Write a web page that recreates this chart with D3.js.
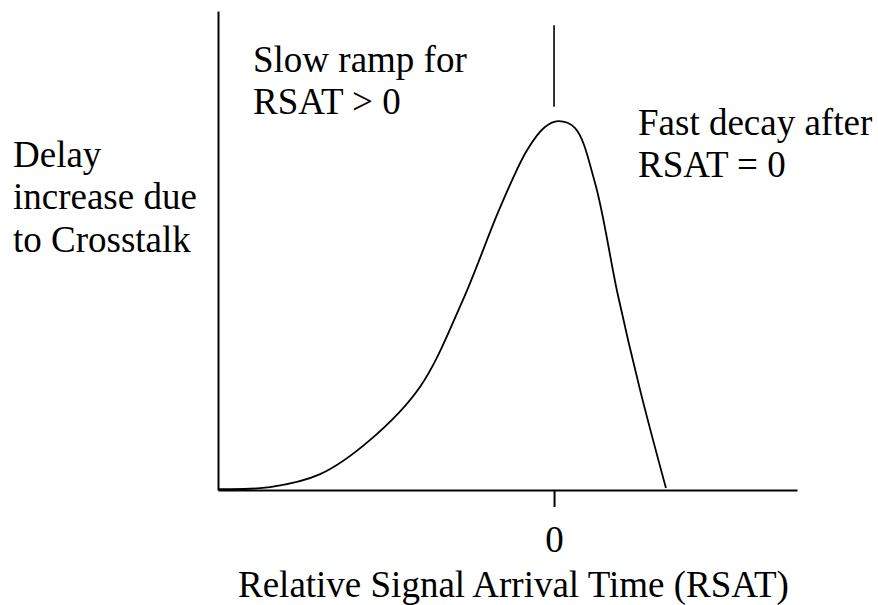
<!DOCTYPE html>
<html>
<head>
<meta charset="utf-8">
<script src="https://cdn.jsdelivr.net/npm/d3@7"></script>
<style>
  html, body { margin: 0; padding: 0; background: #fff; }
  svg { display: block; }
</style>
</head>
<body>
<svg id="chart" width="878" height="605"></svg>
<script>
// ---- data (arbitrary units) ----
const rsat  = [-100, -84.5, -69.6, -54.8, -39.9, -27.1, -16.1, -8.0, -2.7, 1.2, 6.2, 12.2, 19.0, 25.6, 33.3];
const delay = [0.2, 0.6, 3.3, 10.4, 21.5, 39.7, 58.9, 71.0, 75.8, 77.0, 75.6, 64.1, 40.7, 20.9, 0.4];
const xTicks = [0];
const xTickLabels = ["0"];
const markerRange = [80, 97];   // vertical marker above the peak at RSAT = 0
const xDomain = [-100, 72.3];
const yDomain = [0, 100];
const annotations = [
  { lines: ["Slow ramp for", "RSAT > 0"], x: 253, y: 72 },
  { lines: ["Fast decay after", "RSAT = 0"], x: 638, y: 135 },
  { lines: ["Delay", "increase due", "to Crosstalk"], x: 13, y: 167 }
];
const xTitle = "Relative Signal Arrival Time (RSAT)";

// ---- drawing ----
const svg = d3.select("#chart");
const x = d3.scaleLinear().domain(xDomain).range([218, 797]);
const y = d3.scaleLinear().domain(yDomain).range([490, 11]);
const FS = 37;
const FONT = "Liberation Serif";

// y axis (no ticks)
const gy = svg.append("g").attr("transform", `translate(${x(xDomain[0])},0)`)
  .call(d3.axisLeft(y).tickValues([]).tickSizeOuter(0));
gy.select(".domain").attr("stroke", "#000").attr("stroke-width", 2);

// x axis
const gx = svg.append("g").attr("transform", `translate(0,${y(0)})`)
  .call(d3.axisBottom(x).tickValues(xTicks).tickFormat((d, i) => xTickLabels[i])
        .tickSize(17).tickSizeOuter(0));
gx.attr("font-family", FONT).attr("font-size", FS);
gx.select(".domain").attr("stroke", "#000").attr("stroke-width", 2.2);
gx.selectAll(".tick line").attr("stroke", "#000").attr("stroke-width", 2);
gx.selectAll(".tick text")
  .attr("y", 62).attr("dy", 0)
  .attr("font-family", FONT).attr("font-size", FS)
  .attr("fill", "#000");

// marker line above the peak
svg.append("line")
  .attr("x1", x(0)).attr("x2", x(0))
  .attr("y1", y(markerRange[0])).attr("y2", y(markerRange[1]))
  .attr("stroke", "#000").attr("stroke-width", 1.6);

// curve
const pts = rsat.map((v, i) => [v, delay[i]]);
const line = d3.line().x(d => x(d[0])).y(d => y(d[1])).curve(d3.curveCatmullRom.alpha(0.5));
svg.append("path").datum(pts).attr("d", line)
  .attr("fill", "none").attr("stroke", "#000").attr("stroke-width", 1.8);

// annotations
annotations.forEach(a => {
  a.lines.forEach((l, i) => {
    svg.append("text")
      .attr("x", a.x).attr("y", a.y + i * 42.3)
      .attr("font-family", FONT).attr("font-size", FS)
      .attr("fill", "#000").text(l);
  });
});

// x title
svg.append("text").attr("x", 238).attr("y", 597)
  .attr("font-family", FONT).attr("font-size", FS)
  .attr("fill", "#000").text(xTitle);
</script>
</body>
</html>
